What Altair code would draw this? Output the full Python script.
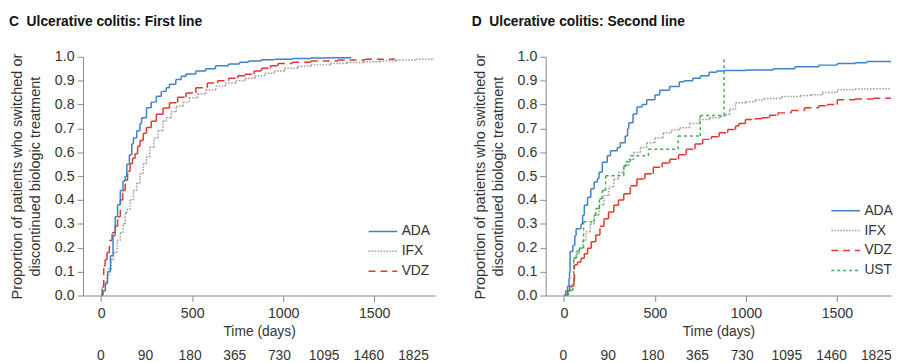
import altair as alt
import pandas as pd

# ---------------- data ----------------
series_all = ["ADA", "IFX", "VDZ", "UST"]
series_colors = ["#3b82c8", "#9a9a9a", "#e2372c", "#3dae4a"]
series_dashes = [[1, 0], [1.5, 1.5], [7, 5], [3, 3]]

risk_labels = ["0", "90", "180", "365", "730", "1095", "1460", "1825"]

# Panel C: first line
c_ada_t = [0, 10, 23, 35, 51, 65, 77, 90, 105, 120, 132, 141, 155, 168, 177, 195, 213, 222, 249, 275,
           303, 330, 357, 375, 410, 440, 466, 520, 574, 628, 700, 760, 809, 880, 953, 1050, 1150, 1260, 1372]
c_ada_p = [0, 0.02, 0.05, 0.10, 0.167, 0.25, 0.33, 0.38, 0.44, 0.48, 0.50, 0.55, 0.59, 0.635, 0.66, 0.69,
           0.72, 0.745, 0.786, 0.81, 0.835, 0.855, 0.87, 0.885, 0.905, 0.918, 0.928, 0.94, 0.95, 0.962,
           0.97, 0.977, 0.982, 0.987, 0.99, 0.993, 0.995, 0.996, 1.0]

c_ifx_t = [0, 10, 23, 32, 41, 55, 68, 87, 105, 120, 132, 141, 159, 177, 195, 213, 231, 249, 267, 290,
           312, 339, 357, 385, 412, 450, 484, 530, 574, 630, 682, 740, 791, 845, 899, 950, 1007, 1080,
           1152, 1260, 1350, 1441, 1530, 1621, 1730, 1825]
c_ifx_p = [0, 0.02, 0.057, 0.084, 0.11, 0.15, 0.18, 0.23, 0.263, 0.30, 0.346, 0.36, 0.40, 0.44, 0.47,
           0.51, 0.552, 0.58, 0.621, 0.66, 0.69, 0.731, 0.745, 0.77, 0.793, 0.81, 0.828, 0.845, 0.862,
           0.877, 0.89, 0.90, 0.91, 0.92, 0.931, 0.94, 0.952, 0.96, 0.966, 0.972, 0.976, 0.979, 0.982,
           0.986, 0.99, 0.993]

c_vdz_t = [0, 5, 14, 22, 32, 45, 60, 77, 90, 105, 118, 132, 145, 159, 172, 186, 200, 213, 231, 249, 275,
           303, 340, 375, 420, 466, 520, 583, 640, 700, 750, 791, 840, 881, 930, 971, 1050, 1152, 1300,
           1450, 1611]
c_vdz_p = [0, 0.036, 0.125, 0.15, 0.18, 0.23, 0.263, 0.29, 0.33, 0.40, 0.44, 0.483, 0.52, 0.552, 0.575,
           0.594, 0.625, 0.649, 0.68, 0.704, 0.73, 0.759, 0.785, 0.807, 0.83, 0.848, 0.87, 0.89, 0.90,
           0.91, 0.92, 0.927, 0.94, 0.952, 0.962, 0.972, 0.977, 0.982, 0.986, 0.99, 0.993]

# Panel D: second line
d_ada_t = [0, 10, 20, 28, 31, 34, 49, 60, 67, 94, 103, 112, 130, 148, 166, 184, 193, 211, 238, 256, 293,
           310, 337, 350, 356, 380, 401, 430, 455, 500, 526, 580, 634, 660, 708, 750, 798, 840, 880, 1000,
           1150, 1268, 1400, 1502, 1600, 1664, 1825]
d_ada_p = [0, 0.02, 0.04, 0.07, 0.10, 0.184, 0.21, 0.25, 0.28, 0.30, 0.336, 0.378, 0.412, 0.447, 0.475,
           0.49, 0.516, 0.558, 0.585, 0.606, 0.62, 0.64, 0.668, 0.70, 0.724, 0.76, 0.79, 0.80, 0.82, 0.84,
           0.86, 0.875, 0.895, 0.90, 0.91, 0.92, 0.935, 0.94, 0.942, 0.945, 0.95, 0.958, 0.965, 0.972,
           0.975, 0.98, 0.98]

d_ifx_t = [0, 20, 40, 54, 70, 85, 103, 121, 145, 166, 193, 220, 247, 274, 300, 329, 356, 383, 420, 455,
           500, 545, 590, 636, 690, 744, 800, 860, 888, 910, 943, 1000, 1051, 1100, 1196, 1300, 1358, 1420,
           1502, 1600, 1700, 1825]
d_ifx_p = [0, 0.02, 0.046, 0.156, 0.175, 0.198, 0.23, 0.267, 0.30, 0.336, 0.38, 0.419, 0.455, 0.488,
           0.515, 0.544, 0.57, 0.599, 0.62, 0.64, 0.66, 0.682, 0.693, 0.703, 0.72, 0.737, 0.745, 0.752,
           0.758, 0.78, 0.807, 0.812, 0.82, 0.825, 0.834, 0.838, 0.841, 0.85, 0.862, 0.865, 0.866, 0.867]

d_vdz_t = [0, 20, 31, 54, 58, 75, 94, 112, 130, 150, 175, 198, 220, 245, 274, 300, 329, 365, 401, 445,
           491, 540, 582, 630, 672, 720, 762, 810, 853, 900, 943, 961, 997, 1050, 1087, 1130, 1177, 1250,
           1322, 1400, 1447, 1502, 1600, 1700, 1825]
d_vdz_p = [0, 0.02, 0.039, 0.06, 0.129, 0.14, 0.156, 0.175, 0.198, 0.225, 0.253, 0.29, 0.322, 0.35,
           0.378, 0.40, 0.426, 0.46, 0.488, 0.51, 0.537, 0.555, 0.571, 0.59, 0.613, 0.635, 0.654, 0.665,
           0.682, 0.695, 0.71, 0.72, 0.737, 0.74, 0.745, 0.755, 0.765, 0.775, 0.786, 0.795, 0.80, 0.82,
           0.823, 0.826, 0.83]

d_ust_t = [0, 25, 49, 54, 67, 85, 108, 166, 175, 195, 210, 229, 329, 340, 365, 464, 627, 749, 880]
d_ust_p = [0, 0.02, 0.04, 0.156, 0.184, 0.198, 0.309, 0.336, 0.364, 0.405, 0.44, 0.502, 0.54, 0.56,
           0.585, 0.613, 0.668, 0.754, 1.0]


# ---------------- helpers ----------------
def step_segments(name, t, p):
    rows = []
    for i in range(len(t) - 1):
        rows.append(dict(series=name, x=t[i], x2=t[i + 1], y=p[i], y2=p[i]))
        rows.append(dict(series=name, x=t[i + 1], x2=t[i + 1], y=p[i], y2=p[i + 1]))
    return rows


FONT = "Liberation Sans"
X_MIN = -100
PX_PER_DAY = 357 / 1935.0
H = 242
ROW = 20.2           # legend row spacing
LEG_X0, LEG_X1, LEG_LX = 289.5, 318.5, 323   # legend symbol start / end, label start


def panel(title, curves, names, legend_top, width):
    rows = []
    for name, t, p in curves:
        rows += step_segments(name, t, p)
    df = pd.DataFrame(rows)
    idx = [series_all.index(n) for n in names]
    cols = [series_colors[i] for i in idx]
    dsh = [series_dashes[i] for i in idx]
    color = alt.Color("series:N", scale=alt.Scale(domain=names, range=cols), legend=None)
    dash = alt.StrokeDash("series:N", scale=alt.Scale(domain=names, range=dsh), legend=None)
    x_domain = [X_MIN, X_MIN + width / PX_PER_DAY]

    rules = alt.Chart(df).mark_rule(strokeWidth=1.5, clip=True).encode(
        x=alt.X("x:Q", scale=alt.Scale(domain=x_domain, nice=False, zero=False),
                axis=alt.Axis(values=[0, 500, 1000, 1500], format="d", title="Time (days)",
                              titlePadding=5, labelPadding=5, titleFontSize=14)),
        x2="x2:Q",
        y=alt.Y("y:Q", scale=alt.Scale(domain=[0, 1], nice=False),
                axis=alt.Axis(values=[i / 10 for i in range(11)], format=".1f",
                              title=["Proportion of patients who switched or",
                                     "discontinued biologic treatment"],
                              titlePadding=12, labelPadding=3, titleFontSize=14.7)),
        y2="y2:Q",
        color=color,
        strokeDash=dash,
    )

    # legend drawn from the series names
    n = len(names)
    leg_df = pd.DataFrame({"series": names, "row": list(range(n))})
    leg_y = alt.Y("row:Q", scale=alt.Scale(domain=[0, n - 1],
                                           range=[legend_top, legend_top + ROW * (n - 1)]),
                  axis=None)
    leg_sym = alt.Chart(leg_df).mark_rule(strokeWidth=1.5).encode(
        x=alt.value(LEG_X0), x2=alt.value(LEG_X1), y=leg_y, color=color, strokeDash=dash,
    )
    leg_txt = alt.Chart(leg_df).mark_text(
        fontSize=14, color="#333", align="left", baseline="middle", font=FONT
    ).encode(x=alt.value(LEG_LX), y=leg_y, text="series:N")

    risk_df = pd.DataFrame({"lab": risk_labels, "col": list(range(len(risk_labels)))})
    risk = alt.Chart(risk_df).mark_text(
        fontSize=14, color="#333", baseline="middle", font=FONT
    ).encode(
        x=alt.X("col:Q", scale=alt.Scale(domain=[0, len(risk_labels) - 1], range=[18, 335]), axis=None),
        y=alt.value(303),
        text="lab:N",
    )

    return alt.layer(rules, leg_sym, leg_txt, risk).resolve_scale(
        x="independent", y="independent"
    ).properties(
        width=width, height=H,
        title=alt.TitleParams(title, anchor="start", frame="bounds", fontSize=14, fontWeight="bold",
                              color="#111", font=FONT, offset=20, dx=-1),
    )


left = panel("C\u00a0\u00a0Ulcerative colitis: First line",
             [("IFX", c_ifx_t, c_ifx_p), ("VDZ", c_vdz_t, c_vdz_p), ("ADA", c_ada_t, c_ada_p)],
             ["ADA", "IFX", "VDZ"], 177, 357)

right = panel("D\u00a0\u00a0Ulcerative colitis: Second line",
              [("IFX", d_ifx_t, d_ifx_p), ("VDZ", d_vdz_t, d_vdz_p), ("ADA", d_ada_t, d_ada_p),
               ("UST", d_ust_t, d_ust_p)],
              ["ADA", "IFX", "VDZ", "UST"], 156, 350)

chart = alt.hconcat(left, right, spacing=36).resolve_scale(
    color="independent", strokeDash="independent"
).configure_view(
    stroke=None
).configure_axis(
    grid=False, domainColor="#888", tickColor="#888", domainWidth=1, tickWidth=1, tickSize=6,
    labelFontSize=14.4, labelColor="#333", labelFont=FONT,
    titleColor="#333", titleFont=FONT, titleFontWeight="normal", titleLineHeight=18,
).properties(padding={"left": 0, "top": 5, "right": 0, "bottom": 0})

chart.save("out.html", embed_options={"renderer": "svg", "actions": False})
